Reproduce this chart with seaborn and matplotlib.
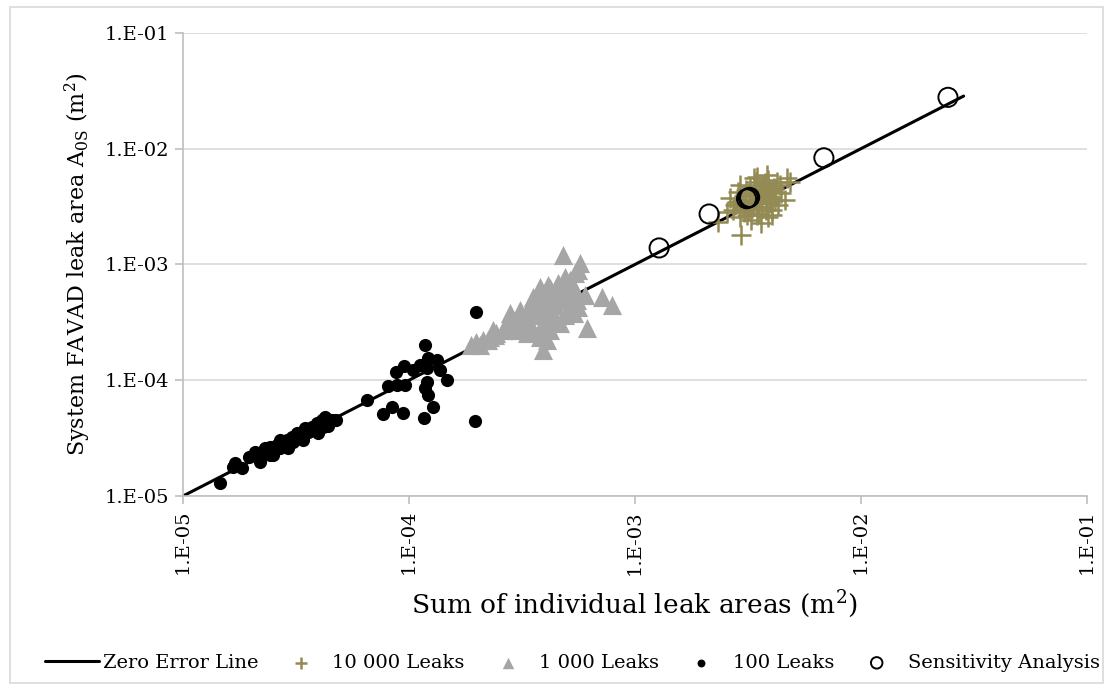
import numpy as np
import pandas as pd
import matplotlib
matplotlib.use("Agg")
import matplotlib.pyplot as plt
import seaborn as sns
from matplotlib.patches import Rectangle

# ---------------------------
# DATA
# ---------------------------

# zero error line
line_x = [1.0e-5, 2.85e-2]
line_y = [1.0e-5, 2.85e-2]

# 100 leaks
dots_x = [1.46e-5, 1.67e-5, 1.70e-5, 1.82e-5, 1.95e-5, 2.19e-5, 2.23e-5, 2.31e-5,
          2.43e-5, 2.51e-5, 2.60e-5, 2.69e-5, 2.78e-5, 2.88e-5, 3.03e-5, 3.08e-5,
          3.18e-5, 3.35e-5, 3.47e-5, 3.58e-5, 3.71e-5, 3.91e-5, 4.11e-5, 4.18e-5,
          4.25e-5, 4.40e-5, 4.55e-5, 2.35e-5, 2.15e-5, 2.69e-5, 6.50e-5, 7.70e-5,
          8.38e-5, 9.44e-5, 8.10e-5, 8.83e-5, 9.60e-5, 8.75e-5, 9.53e-5, 1.04e-4,
          1.12e-4, 1.20e-4, 1.22e-4, 1.18e-4, 1.33e-4, 1.37e-4, 1.47e-4, 1.20e-4,
          1.18e-4, 1.21e-4, 1.28e-4, 1.16e-4, 1.96e-4, 1.98e-4,
          2.08e-5, 2.38e-5, 2.55e-5, 2.83e-5, 3.04e-5, 3.30e-5, 3.57e-5, 3.84e-5,
          4.12e-5, 4.47e-5, 4.75e-5, 2.43e-5, 2.92e-5, 3.40e-5, 3.96e-5, 4.38e-5]
dots_y = [1.30e-5, 1.79e-5, 1.91e-5, 1.73e-5, 2.19e-5, 1.98e-5, 2.41e-5, 2.58e-5,
          2.67e-5, 2.26e-5, 2.76e-5, 2.58e-5, 2.85e-5, 3.05e-5, 3.25e-5, 2.94e-5,
          3.48e-5, 3.59e-5, 3.85e-5, 3.59e-5, 3.97e-5, 4.25e-5, 4.54e-5, 3.97e-5,
          4.84e-5, 4.39e-5, 4.54e-5, 2.50e-5, 2.19e-5, 3.05e-5, 6.75e-5, 5.08e-5,
          5.84e-5, 5.18e-5, 8.92e-5, 9.10e-5, 9.10e-5, 1.17e-4, 1.33e-4, 1.23e-4,
          1.35e-4, 1.27e-4, 1.55e-4, 2.02e-4, 1.50e-4, 1.23e-4, 1.00e-4, 9.72e-5,
          8.52e-5, 7.46e-5, 5.84e-5, 4.69e-5, 4.45e-5, 3.91e-4,
          2.40e-5, 2.50e-5, 2.65e-5, 2.81e-5, 3.05e-5, 3.30e-5, 3.57e-5, 3.87e-5,
          4.19e-5, 4.54e-5, 4.54e-5, 2.26e-5, 2.60e-5, 3.05e-5, 3.50e-5, 4.03e-5]

# 1 000 leaks
tri_x = [4.82e-4, 5.71e-4, 7.12e-4, 7.88e-4, 6.11e-4, 3.93e-4, 3.80e-4, 1.89e-4,
         1.99e-4, 2.13e-4, 2.28e-4, 2.44e-4, 2.61e-4, 2.80e-4, 2.90e-4, 3.10e-4,
         3.21e-4, 3.32e-4, 3.55e-4, 3.67e-4, 3.80e-4, 3.93e-4, 4.07e-4, 4.21e-4,
         4.35e-4, 4.51e-4, 4.58e-4, 4.66e-4, 4.90e-4, 4.99e-4, 5.07e-4, 5.25e-4,
         5.43e-4, 5.52e-4, 5.61e-4, 5.35e-4, 4.21e-4, 3.55e-4, 3.05e-4, 2.71e-4,
         2.36e-4, 3.43e-4, 4.07e-4,
         2.06e-4, 2.24e-4, 2.40e-4, 2.66e-4, 2.94e-4, 3.26e-4, 3.61e-4, 4.00e-4,
         4.43e-4, 4.90e-4, 5.43e-4, 5.15e-4, 4.66e-4, 4.21e-4, 3.80e-4, 3.43e-4,
         3.10e-4, 4.00e-4, 4.43e-4, 4.90e-4, 5.43e-4, 6.01e-4, 5.60e-4, 4.12e-4,
         3.72e-4]
tri_y = [1.21e-3, 1.02e-3, 5.27e-4, 4.47e-4, 2.81e-4, 1.82e-4, 2.38e-4, 2.02e-4,
         2.15e-4, 2.23e-4, 2.38e-4, 2.55e-4, 2.72e-4, 3.78e-4, 2.90e-4, 2.72e-4,
         3.31e-4, 2.55e-4, 5.27e-4, 4.05e-4, 6.43e-4, 3.10e-4, 4.62e-4, 6.22e-4,
         3.78e-4, 5.27e-4, 6.89e-4, 3.10e-4, 7.85e-4, 5.27e-4, 4.05e-4, 6.43e-4,
         8.40e-4, 4.93e-4, 4.32e-4, 3.78e-4, 2.72e-4, 2.72e-4, 3.10e-4, 3.10e-4,
         2.72e-4, 4.05e-4, 2.23e-4,
         2.02e-4, 2.23e-4, 2.46e-4, 2.72e-4, 3.19e-4, 3.45e-4, 3.66e-4, 3.89e-4,
         4.47e-4, 4.93e-4, 6.03e-4, 7.35e-4, 6.03e-4, 5.45e-4, 4.93e-4, 4.47e-4,
         4.05e-4, 3.00e-4, 3.32e-4, 3.66e-4, 4.47e-4, 5.45e-4, 8.96e-4, 6.65e-4,
         5.78e-4]

# 10 000 leaks
plus_x = [2.96e-3, 2.34e-3, 2.63e-3, 4.69e-3, 4.24e-3, 3.83e-3, 3.46e-3, 4.38e-3,
          3.63e-3, 3.28e-3, 2.92e-3, 2.72e-3, 4.03e-3, 3.96e-3, 3.70e-3, 4.09e-3,
          3.23e-3, 3.46e-3, 3.57e-3, 3.83e-3, 3.34e-3, 3.01e-3, 2.82e-3, 4.16e-3,
          3.76e-3, 3.40e-3, 3.52e-3, 3.12e-3, 3.89e-3, 4.85e-3, 3.76e-3, 3.50e-3,
          3.65e-3, 3.96e-3, 3.40e-3, 3.89e-3, 3.16e-3, 3.57e-3, 4.16e-3, 3.07e-3,
          2.86e-3, 2.97e-3, 3.10e-3, 3.23e-3, 3.29e-3, 3.43e-3, 3.54e-3, 3.65e-3,
          3.80e-3, 3.87e-3, 4.00e-3, 4.12e-3, 4.30e-3, 4.43e-3, 3.03e-3, 3.47e-3,
          3.68e-3, 3.19e-3, 2.77e-3, 2.55e-3, 4.61e-3, 4.04e-3, 3.36e-3, 2.92e-3]
plus_y = [1.80e-3, 2.34e-3, 3.73e-3, 5.56e-3, 5.19e-3, 5.93e-3, 5.74e-3, 4.86e-3,
          2.27e-3, 2.42e-3, 2.59e-3, 2.96e-3, 2.96e-3, 3.85e-3, 4.40e-3, 4.40e-3,
          4.71e-3, 3.16e-3, 3.61e-3, 3.37e-3, 3.37e-3, 3.16e-3, 3.49e-3, 3.61e-3,
          5.02e-3, 4.12e-3, 2.77e-3, 2.68e-3, 2.59e-3, 5.19e-3, 3.98e-3, 3.75e-3,
          3.14e-3, 3.37e-3, 4.86e-3, 4.68e-3, 2.96e-3, 4.40e-3, 4.23e-3, 3.98e-3,
          4.23e-3, 3.61e-3, 4.40e-3, 3.91e-3, 3.08e-3, 5.16e-3, 3.47e-3, 4.06e-3,
          2.96e-3, 5.37e-3, 3.75e-3, 4.58e-3, 3.27e-3, 4.15e-3, 2.84e-3, 2.68e-3,
          4.86e-3, 3.40e-3, 3.27e-3, 2.84e-3, 3.61e-3, 2.68e-3, 5.58e-3, 4.86e-3]

# sensitivity analysis
sens_x = [1.28e-3, 2.13e-3, 3.18e-3, 3.12e-3, 3.22e-3, 6.86e-3, 2.43e-2]
sens_y = [1.39e-3, 2.73e-3, 3.75e-3, 3.70e-3, 3.80e-3, 8.35e-3, 2.78e-2]

ticks = [1e-5, 1e-4, 1e-3, 1e-2, 1e-1]
tick_labels = ["1.E-05", "1.E-04", "1.E-03", "1.E-02", "1.E-01"]

# ---------------------------
# PLOT
# ---------------------------

sns.set_style("white")
plt.rcParams['font.family'] = ['DejaVu Serif']
plt.rcParams['mathtext.fontset'] = 'dejavuserif'
plt.rcParams['text.color'] = 'black'
plt.rcParams['axes.labelcolor'] = 'black'
plt.rcParams['xtick.color'] = 'black'
plt.rcParams['ytick.color'] = 'black'

fig = plt.figure(figsize=(11.09, 6.87), dpi=100)
ax = fig.add_axes([0.165, 0.278, 0.815, 0.674])

sns.lineplot(x=line_x, y=line_y, color="black", linewidth=2.2, ax=ax,
             label="Zero Error Line", zorder=2)
sns.scatterplot(x=plus_x, y=plus_y, marker="+", s=190, color="#948A54",
                linewidth=1.8, ax=ax, label="10 000 Leaks", zorder=3)
sns.scatterplot(x=tri_x, y=tri_y, marker="^", s=190, color="#A6A6A6",
                edgecolor="#A6A6A6", linewidth=0, ax=ax, label="1 000 Leaks", zorder=4)
sns.scatterplot(x=dots_x, y=dots_y, marker="o", s=90, color="black",
                edgecolor="black", linewidth=0, ax=ax, label="100 Leaks", zorder=5)
sns.scatterplot(x=sens_x, y=sens_y, marker="o", s=190, facecolor="none",
                edgecolor="black", linewidth=1.4, ax=ax, label="Sensitivity Analysis",
                zorder=6)

ax.set_xscale("log")
ax.set_yscale("log")
ax.set_xlim(1e-5, 1e-1)
ax.set_ylim(1e-5, 1e-1)
ax.set_xticks(ticks)
ax.set_xticklabels(tick_labels, rotation=90, fontsize=14)
ax.set_yticks(ticks)
ax.set_yticklabels(tick_labels, fontsize=14)
ax.minorticks_off()

ax.yaxis.grid(True, color="#D9D9D9", linewidth=1.2)
ax.set_axisbelow(True)
for side in ["top", "right"]:
    ax.spines[side].set_visible(False)
for side in ["left", "bottom"]:
    ax.spines[side].set_color("#BFBFBF")
    ax.spines[side].set_linewidth(1.2)
ax.tick_params(axis="both", which="major", length=6, width=1.2, color="#BFBFBF",
               labelcolor="black", direction="out", pad=4, left=True, bottom=True)

ax.set_xlabel("Sum of individual leak areas (m$^2$)", fontsize=19, labelpad=10)
ax.set_ylabel("System FAVAD leak area A$_{\\mathrm{0S}}$ (m$^2$)", fontsize=16, labelpad=8)

handles, labels = ax.get_legend_handles_labels()
ax.get_legend().remove()
fig.legend(handles, labels, loc="center", bbox_to_anchor=(0.516, 0.035), ncol=5,
           frameon=False, fontsize=14, columnspacing=0.8, handletextpad=0.2,
           handlelength=2.8, markerscale=0.6)

# chart border
fig.patches.append(Rectangle((0.009, 0.006), 0.986, 0.984, transform=fig.transFigure,
                             fill=False, edgecolor="#D9D9D9", linewidth=1.2))

fig.savefig("out.png", dpi=100)
